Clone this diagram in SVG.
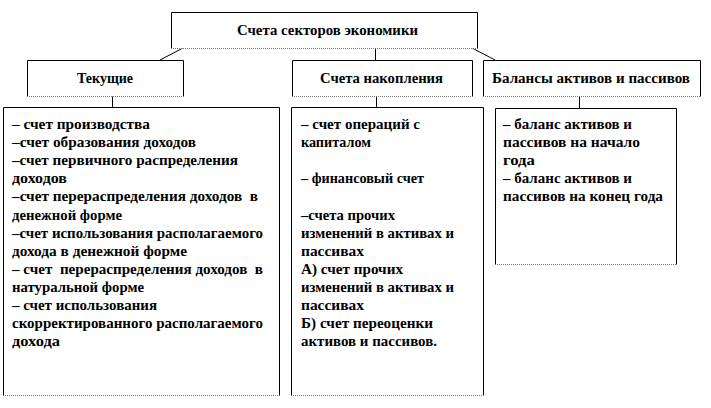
<svg xmlns="http://www.w3.org/2000/svg" width="711" height="408" viewBox="0 0 711 408">
<style>
.side{fill:none;stroke:#000;stroke-width:1}
.dot{stroke:#777;stroke-width:1;stroke-dasharray:1 1}
.con{stroke:#000;stroke-width:1;fill:none}
text{font-family:'Liberation Serif','Times New Roman',serif;font-weight:bold;font-size:15px;fill:#000;white-space:pre}
</style>
<rect width="711" height="408" fill="#fff"/>
<g id="connectors">
<line class="con" x1="183" y1="48" x2="160" y2="60"/>
<line class="con" x1="375.5" y1="48" x2="375.5" y2="60"/>
<line class="con" x1="472" y1="48" x2="495" y2="60"/>
<line class="con" x1="112.5" y1="96" x2="112.5" y2="107"/>
<line class="con" x1="376.5" y1="96" x2="376.5" y2="107"/>
<line class="con" x1="579.5" y1="96" x2="579.5" y2="108"/>
</g>
<g id="root">
<rect x="171.5" y="12.5" width="306" height="36" fill="#fff"/>
<path class="side" d="M171.5,48.5 V12.5 H477.5 V48.5"/>
<line class="dot" x1="171" y1="48.5" x2="478" y2="48.5"/>
<text x="237" y="35" textLength="181" lengthAdjust="spacingAndGlyphs">Счета секторов экономики</text>
</g>
<g id="tekushchie">
<rect x="27.5" y="60.5" width="156" height="36" fill="#fff"/>
<path class="side" d="M27.5,96.5 V60.5 H183.5 V96.5"/>
<line class="dot" x1="27" y1="96.5" x2="184" y2="96.5"/>
<text x="77" y="83" textLength="56" lengthAdjust="spacingAndGlyphs">Текущие</text>
</g>
<g id="nakopleniya">
<rect x="292.5" y="60.5" width="180" height="36" fill="#fff"/>
<path class="side" d="M292.5,96.5 V60.5 H472.5 V96.5"/>
<line class="dot" x1="292" y1="96.5" x2="473" y2="96.5"/>
<text x="320" y="83" textLength="123" lengthAdjust="spacingAndGlyphs">Счета накопления</text>
</g>
<g id="balansy">
<rect x="483.5" y="60.5" width="217" height="36" fill="#fff"/>
<path class="side" d="M483.5,96.5 V60.5 H700.5 V96.5"/>
<line class="dot" x1="483" y1="96.5" x2="701" y2="96.5"/>
<text x="492" y="83" textLength="198" lengthAdjust="spacingAndGlyphs">Балансы активов и пассивов</text>
</g>
<g id="tekushchie-list">
<rect x="3.5" y="107.5" width="276" height="288" fill="#fff"/>
<path class="side" d="M3.5,395.5 V107.5 H279.5 V395.5"/>
<line class="dot" x1="3" y1="395.5" x2="280" y2="395.5"/>
<text x="12" y="129" textLength="138" lengthAdjust="spacingAndGlyphs">– счет производства</text>
<text x="12" y="147.1" textLength="184" lengthAdjust="spacingAndGlyphs">–счет образования доходов</text>
<text x="12" y="165.2" textLength="226" lengthAdjust="spacingAndGlyphs">–счет первичного распределения</text>
<text x="12" y="183.3" textLength="55" lengthAdjust="spacingAndGlyphs">доходов</text>
<text x="12" y="201.4" textLength="246" lengthAdjust="spacingAndGlyphs">–счет перераспределения доходов  в</text>
<text x="12" y="219.5" textLength="110" lengthAdjust="spacingAndGlyphs">денежной форме</text>
<text x="12" y="237.6" textLength="251" lengthAdjust="spacingAndGlyphs">–счет использования располагаемого</text>
<text x="12" y="255.7" textLength="175" lengthAdjust="spacingAndGlyphs">дохода в денежной форме</text>
<text x="12" y="273.8" textLength="251" lengthAdjust="spacingAndGlyphs">– счет  перераспределения доходов  в</text>
<text x="12" y="291.9" textLength="132" lengthAdjust="spacingAndGlyphs">натуральной форме</text>
<text x="12" y="310" textLength="145" lengthAdjust="spacingAndGlyphs">– счет использования</text>
<text x="12" y="328.1" textLength="251" lengthAdjust="spacingAndGlyphs">скорректированного располагаемого</text>
<text x="12" y="346.2" textLength="48" lengthAdjust="spacingAndGlyphs">дохода</text>
</g>
<g id="nakopleniya-list">
<rect x="291.5" y="107.5" width="192" height="288" fill="#fff"/>
<path class="side" d="M291.5,395.5 V107.5 H483.5 V395.5"/>
<line class="dot" x1="291" y1="395.5" x2="484" y2="395.5"/>
<text x="301" y="129" textLength="119" lengthAdjust="spacingAndGlyphs">– счет операций с</text>
<text x="301" y="147.1" textLength="70" lengthAdjust="spacingAndGlyphs">капиталом</text>
<text x="301" y="183.3" textLength="123" lengthAdjust="spacingAndGlyphs">– финансовый счет</text>
<text x="301" y="219.5" textLength="94" lengthAdjust="spacingAndGlyphs">–счета прочих</text>
<text x="301" y="237.6" textLength="153" lengthAdjust="spacingAndGlyphs">изменений в активах и</text>
<text x="301" y="255.7" textLength="63" lengthAdjust="spacingAndGlyphs">пассивах</text>
<text x="301" y="273.8" textLength="102" lengthAdjust="spacingAndGlyphs">А) счет прочих</text>
<text x="301" y="291.9" textLength="153" lengthAdjust="spacingAndGlyphs">изменений в активах и</text>
<text x="301" y="310" textLength="63" lengthAdjust="spacingAndGlyphs">пассивах</text>
<text x="301" y="328.1" textLength="132" lengthAdjust="spacingAndGlyphs">Б) счет переоценки</text>
<text x="301" y="346.2" textLength="136" lengthAdjust="spacingAndGlyphs">активов и пассивов.</text>
</g>
<g id="balansy-list">
<rect x="495.5" y="108.5" width="181" height="156" fill="#fff"/>
<path class="side" d="M495.5,264.5 V108.5 H676.5 V264.5"/>
<line class="dot" x1="495" y1="264.5" x2="677" y2="264.5"/>
<text x="503" y="129" textLength="129" lengthAdjust="spacingAndGlyphs">– баланс активов и</text>
<text x="503" y="147.1" textLength="137" lengthAdjust="spacingAndGlyphs">пассивов на начало</text>
<text x="503" y="165.2" textLength="32" lengthAdjust="spacingAndGlyphs">года</text>
<text x="503" y="183.3" textLength="129" lengthAdjust="spacingAndGlyphs">– баланс активов и</text>
<text x="503" y="201.4" textLength="160" lengthAdjust="spacingAndGlyphs">пассивов на конец года</text>
</g>
</svg>
